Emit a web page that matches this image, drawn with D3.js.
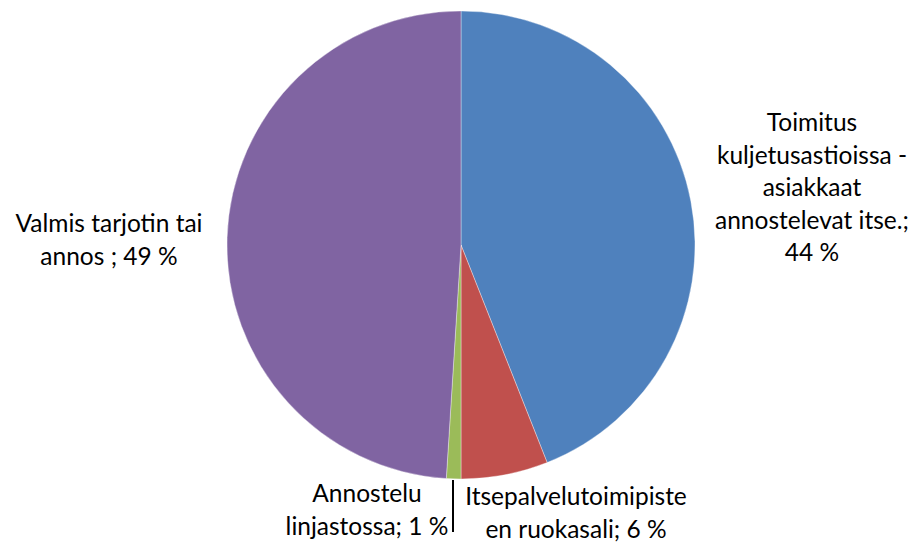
<!DOCTYPE html>
<html>
<head>
<meta charset="utf-8">
<script src="https://cdn.jsdelivr.net/npm/d3@7"></script>
<style>
	body { margin: 0; background: #fff; }
	text { font-family: Lato, "Open Sans", sans-serif; fill: #000; }
</style>
</head>
<body>
<div id="chart"></div>
<script>
// Data
var categories = [
	"Toimitus kuljetusastioissa - asiakkaat annostelevat itse.",
	"Itsepalvelutoimipisteen ruokasali",
	"Annostelu linjastossa",
	"Valmis tarjotin tai annos"
];
var values = [44, 6, 1, 49];
var colors = ["#4F81BD", "#C0504D", "#9BBB59", "#8064A2"];
var labelLines = [
	["Toimitus", "kuljetusastioissa -", "asiakkaat", "annostelevat itse.;", "44 %"],
	["Itsepalvelutoimipiste", "en ruokasali; 6 %"],
	["Annostelu", "linjastossa; 1 %"],
	["Valmis tarjotin tai", "annos ; 49 %"]
];

var width = 918, height = 543;
var cx = 461, cy = 245, radius = 234;

var svg = d3.select("#chart").append("svg")
	.attr("width", width)
	.attr("height", height);

var pie = d3.pie().sort(null).value(function(d) { return d; });
var arc = d3.arc().innerRadius(0).outerRadius(radius);
var arcs = pie(values);

var g = svg.append("g").attr("transform", "translate(" + cx + "," + cy + ")");

g.selectAll("path")
	.data(arcs)
	.enter().append("path")
		.attr("d", arc)
		.attr("fill", function(d, i) { return colors[i]; })
		.attr("stroke", "#ffffff")
		.attr("stroke-opacity", 0.6)
		.attr("stroke-width", 0.6);

// Label placement (centre x, first baseline)
var labelPos = [
	{x: 812, y: 131},
	{x: 576, y: 505},
	{x: 367, y: 502},
	{x: 109, y: 232}
];
var lineH = 32.5;

labelLines.forEach(function(lines, i) {
	var t = svg.append("text")
		.attr("text-anchor", "middle")
		.attr("font-size", 24.5);
	lines.forEach(function(s, j) {
		t.append("tspan")
			.attr("x", labelPos[i].x)
			.attr("y", labelPos[i].y + j * lineH)
			.text(s);
	});
});

// Leader line for the small slice
svg.append("line")
	.attr("x1", 453).attr("x2", 453)
	.attr("y1", cy + radius + 1)
	.attr("y2", 532)
	.attr("stroke", "#000")
	.attr("stroke-width", 2);
</script>
</body>
</html>
